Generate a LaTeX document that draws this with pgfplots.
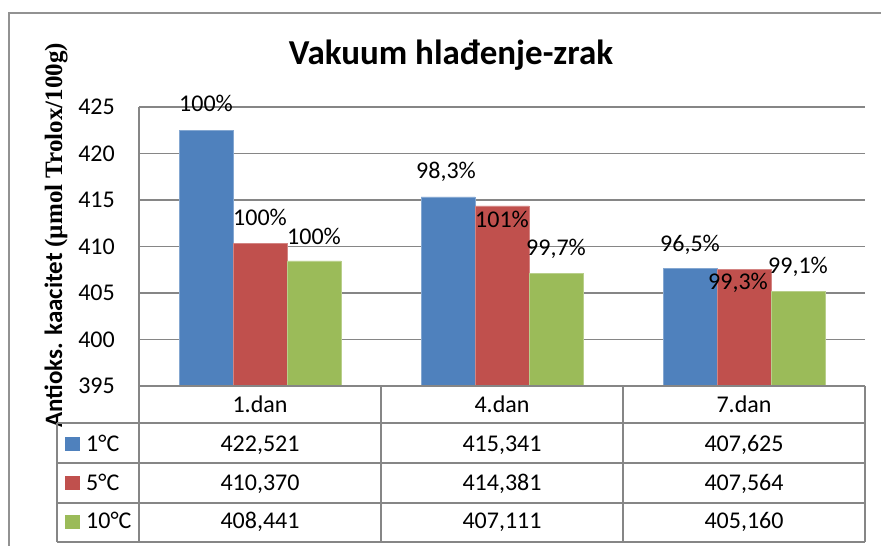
\documentclass[border=0pt]{standalone}
\usepackage{pgfplots}
\pgfplotsset{compat=1.18}
\usepackage{pgfplotstable}
\usepackage{fontspec}
\setmainfont{Carlito}
\newfontfamily\timesb{Liberation Serif}
\definecolor{c1}{HTML}{4F81BD}
\definecolor{c2}{HTML}{C0504D}
\definecolor{c3}{HTML}{9BBB59}
\definecolor{gridgray}{HTML}{868686}
\newcommand{\fs}{\fontsize{24}{28}\selectfont}

\pgfplotstableread{
x y lab off xo
0 422.521 100 27 0
1 415.341 98,3 25 -2
2 407.625 96,5 23.5 0
}\tA
\pgfplotstableread{
x y lab off xo
0 410.370 100 25.4 0
1 414.381 101 -14 0
2 407.564 99,3 -14 -6
}\tB
\pgfplotstableread{
x y lab off xo
0 408.441 100 25 0
1 407.111 99,7 24.7 0
2 405.160 99,1 24.5 0
}\tC

\begin{document}
\begin{tikzpicture}[x=1pt,y=1pt]
\useasboundingbox (0,0) rectangle (881,546);
\draw[gridgray!90, line width=1.5pt] (9,-10) -- (9,533) -- (890,533);
\begin{axis}[
  at={(139pt,160pt)}, anchor=south west,
  scale only axis, width=726pt, height=279pt,
  xmin=-0.5, xmax=2.5, ymin=395, ymax=425,
  ytick={395,400,...,425}, xtick=\empty,
  ymajorgrids, grid style={draw=gridgray, line width=1.5pt},
  separate axis lines,
  axis x line=bottom, axis y line=left,
  axis line style={-, draw=gridgray, line width=1.5pt},
  major tick length=0pt,
  /pgf/number format/assume math mode=true,
  yticklabel style={font=\fs, anchor=east, inner sep=0pt, xshift=-24pt},
  ybar=0pt, bar width=54pt,
  point meta=explicit symbolic,
  nodes near coords={\pgfplotspointmeta\%},
  visualization depends on={\thisrow{off} \as \myoff},
  visualization depends on={\thisrow{xo} \as \myxo},
  every node near coord/.append style={font=\fs, text=black, anchor=center, yshift=\myoff*1pt, xshift=\myxo*1pt},
]
\addplot[fill=c1, draw=c1!70!white] table[x=x, y=y, meta=lab] {\tA};
\addplot[fill=c2, draw=c2!70!white] table[x=x, y=y, meta=lab] {\tB};
\addplot[fill=c3, draw=c3!70!white] table[x=x, y=y, meta=lab] {\tC};
\end{axis}
% title
\node[font=\fontsize{35}{40}\selectfont\bfseries, anchor=base] at (451,481) {Vakuum hlađenje-zrak};
% y label
\node[rotate=90, font=\fontsize{25}{29}\selectfont, inner sep=0pt] at (56,310.5) {\bfseries Antioks. kaacitet {\timesb\bfseries (µmol Trolox/100g)}};
% data table
\begin{scope}[gridgray, line width=2pt]
\draw (139,160) -- (865,160);
\draw (57,123) -- (865,123);
\draw (57,83) -- (865,83);
\draw (57,43) -- (865,43);
\draw (57,4) -- (865,4);
\draw (57,123) -- (57,4);
\draw (139,160) -- (139,4);
\draw (381,160) -- (381,4);
\draw (623,160) -- (623,4);
\draw (865,160) -- (865,4);
\end{scope}
\foreach \xx/\tt in {260/1.dan, 502/4.dan, 744/7.dan}
  \node[font=\fs, anchor=base] at (\xx,133) {\tt};
\node[font=\fs, anchor=base] at (260,94) {422,521};
\node[font=\fs, anchor=base] at (502,94) {415,341};
\node[font=\fs, anchor=base] at (744,94) {407,625};
\node[font=\fs, anchor=base] at (260,55) {410,370};
\node[font=\fs, anchor=base] at (502,55) {414,381};
\node[font=\fs, anchor=base] at (744,55) {407,564};
\node[font=\fs, anchor=base] at (260,17) {408,441};
\node[font=\fs, anchor=base] at (502,17) {407,111};
\node[font=\fs, anchor=base] at (744,17) {405,160};
\fill[c1] (65,95) rectangle (80,109);
\fill[c2] (65,56) rectangle (80,70);
\fill[c3] (65,17) rectangle (80,31);
\node[font=\fs, anchor=base west, inner sep=0pt] at (86,94) {1°C};
\node[font=\fs, anchor=base west, inner sep=0pt] at (86,55) {5°C};
\node[font=\fs, anchor=base west, inner sep=0pt] at (86,17) {10°C};
\end{tikzpicture}
\end{document}
